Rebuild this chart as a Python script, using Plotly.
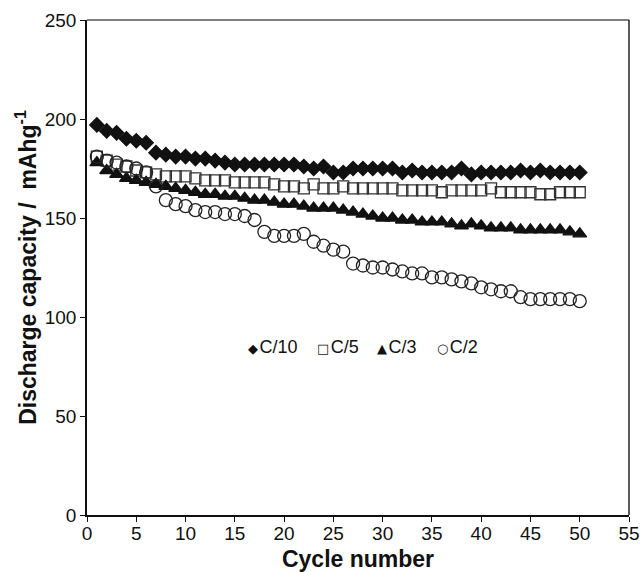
import plotly.graph_objects as go

cycles = list(range(1, 51))

c10 = [197, 194, 193, 190, 189, 188, 183, 182, 181, 181, 180, 180, 179, 178, 177, 177, 177, 177, 177, 177,
       177, 176, 175, 176, 173, 173, 175, 175, 175, 175, 175, 173, 174, 173, 173, 173, 173, 175, 172, 173,
       173, 173, 173, 174, 173, 174, 173, 173, 173, 173]

c5 = [181, 179, 177, 176, 174, 173, 172, 171, 171, 171, 170, 169, 169, 169, 168, 168, 168, 168, 167, 166,
      166, 165, 167, 165, 165, 166, 165, 165, 165, 165, 165, 164, 164, 164, 164, 163, 164, 164, 164, 164,
      165, 163, 163, 163, 163, 162, 162, 163, 163, 163]

c3 = [178, 174, 172, 170, 169, 168, 167, 166, 165, 164, 163, 162, 162, 161, 161, 160, 159, 159, 158, 157,
      157, 156, 155, 155, 155, 154, 153, 152, 151, 150, 150, 149, 149, 148, 148, 148, 147, 146, 147, 146,
      145, 145, 145, 144, 144, 144, 144, 144, 143, 142]

c2 = [181, 179, 178, 176, 175, 173, 166, 159, 157, 156, 154, 153, 153, 152, 152, 151, 149, 143, 141, 141,
      141, 142, 138, 136, 134, 133, 127, 126, 125, 125, 124, 123, 122, 122, 120, 120, 119, 118, 117, 115,
      114, 113, 113, 110, 109, 109, 109, 109, 109, 108]

series_names = ["C/10", "C/5", "C/3", "C/2"]
legend_glyphs = ["\u25C6", "\u25A1", "\u25B2", "\u25CB"]

series = [
    (series_names[0], c10, "diamond", "#111111", 11),
    (series_names[1], c5, "square-open", "#333333", 11),
    (series_names[2], c3, "triangle-up", "#111111", 12),
    (series_names[3], c2, "circle-open", "#222222", 13),
]

fig = go.Figure()
for name, vals, sym, col, sz in series:
    fig.add_trace(go.Scatter(
        x=cycles, y=vals, mode="markers", name=name, showlegend=False,
        marker=dict(symbol=sym, size=sz, color=col, line=dict(color=col, width=1.3)),
    ))

font_family = "Liberation Sans, Arial, sans-serif"

# legend drawn as text items (symbol glyph + label) inside the plot
legend_x = [0.293, 0.420, 0.532, 0.642]
annotations = []
for gx, glyph, name in zip(legend_x, legend_glyphs, series_names):
    annotations.append(dict(
        xref="paper", yref="paper", x=gx, y=0.34, xanchor="left", yanchor="middle",
        text=f"<span style='font-size:13px;font-family:DejaVu Sans'>{glyph}</span><span style='font-size:5px'> </span>{name}",
        showarrow=False, font=dict(size=18, family=font_family, color="#111111"),
    ))

fig.update_layout(
    width=641, height=572,
    margin=dict(l=87, r=12, t=20, b=57, autoexpand=False),
    paper_bgcolor="white", plot_bgcolor="white",
    font=dict(family=font_family, color="#111111", size=19),
    showlegend=False,
    annotations=annotations,
    xaxis=dict(
        range=[0, 55], tickmode="array", tickvals=list(range(0, 56, 5)),
        showgrid=False, zeroline=False, automargin=False,
        showline=True, linecolor="#111111", linewidth=1.5, mirror=False,
        ticks="outside", ticklen=5, tickcolor="#111111",
        tickfont=dict(size=19), ticklabelstandoff=-5,
        title=dict(text="<b>Cycle number</b>", font=dict(size=23), standoff=10),
    ),
    yaxis=dict(
        range=[0, 250], tickmode="array", tickvals=list(range(0, 251, 50)),
        showgrid=False, zeroline=False, automargin=False,
        showline=True, linecolor="#111111", linewidth=1.5, mirror=False,
        ticks="outside", ticklen=5, tickcolor="#111111",
        tickfont=dict(size=19),
        title=dict(text="<b>Discharge capacity /&nbsp; mAhg<sup>-1</sup></b>", font=dict(size=23), standoff=2),
    ),
    shapes=[
        dict(type="line", xref="paper", yref="paper", x0=0, x1=1, y0=1, y1=1,
             line=dict(color="#555555", width=1.5)),
        dict(type="line", xref="paper", yref="paper", x0=1, x1=1, y0=0, y1=1,
             line=dict(color="#222222", width=1.5)),
    ],
)

fig.write_html("out.html", config={"displayModeBar": False},
               post_script="document.body.style.margin='0';document.body.style.padding='0';")
